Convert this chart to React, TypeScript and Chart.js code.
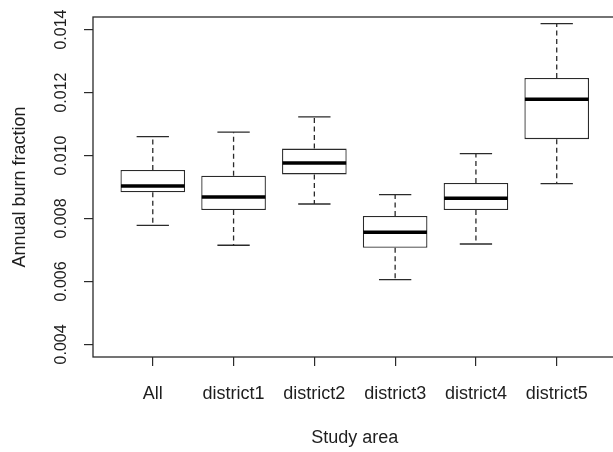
import React, { useEffect, useRef } from "react";
import { Chart, registerables } from "chart.js";

Chart.register(...registerables);

// ---- data ----
const categories = ["All", "district1", "district2", "district3", "district4", "district5"];
const lowerWhisker = [0.00778, 0.00715, 0.00846, 0.00606, 0.00719, 0.00911];
const q1 = [0.00883, 0.00827, 0.0094, 0.00707, 0.00827, 0.01052];
const medians = [0.00903, 0.00868, 0.00976, 0.00756, 0.00864, 0.01179];
const q3 = [0.00954, 0.00936, 0.01022, 0.00808, 0.00913, 0.01246];
const upperWhisker = [0.0106, 0.01074, 0.01123, 0.00876, 0.01006, 0.01419];
const yTickValues = [0.004, 0.006, 0.008, 0.01, 0.012, 0.014];
const xTitle = "Study area";
const yTitle = "Annual burn fraction";

const CANVAS_W = 630;
const CANVAS_H = 452;
const LINE = "#2a2a2a";
const TEXT = "#1e1e1e";
const FONT = "'Liberation Sans', Arial, sans-serif";

export default function App() {
  const ref = useRef<HTMLCanvasElement>(null);

  useEffect(() => {
    const canvas = ref.current;
    if (!canvas) return;

    const line = (ctx: CanvasRenderingContext2D, x1: number, y1: number, x2: number, y2: number) => {
      ctx.beginPath();
      ctx.moveTo(x1, y1);
      ctx.lineTo(x2, y2);
      ctx.stroke();
    };

    const boxPlugin = {
      id: "boxWhiskers",
      afterDatasetsDraw(chart: any) {
        const ctx: CanvasRenderingContext2D = chart.ctx;
        const xs = chart.scales.x;
        const ys = chart.scales.y;
        const meta = chart.getDatasetMeta(0);
        ctx.save();
        ctx.lineCap = "butt";
        categories.forEach((_, i) => {
          const bar: any = meta.data[i];
          const x = xs.getPixelForValue(i + 1);
          const half = bar.width / 2;
          const capHalf = half / 2;
          const yU = ys.getPixelForValue(upperWhisker[i]);
          const yL = ys.getPixelForValue(lowerWhisker[i]);
          const yQ1 = ys.getPixelForValue(q1[i]);
          const yQ3 = ys.getPixelForValue(q3[i]);
          const yM = ys.getPixelForValue(medians[i]);
          ctx.strokeStyle = LINE;
          ctx.lineWidth = 1.3;
          ctx.setLineDash([5, 3.5]);
          line(ctx, x, yQ3, x, yU);
          line(ctx, x, yQ1, x, yL);
          ctx.setLineDash([]);
          line(ctx, x - capHalf, yU, x + capHalf, yU);
          line(ctx, x - capHalf, yL, x + capHalf, yL);
          ctx.strokeStyle = "#000";
          ctx.lineWidth = 3.5;
          line(ctx, x - half + 0.5, yM, x + half - 0.5, yM);
        });
        ctx.restore();
      },
      afterDraw(chart: any) {
        const ctx: CanvasRenderingContext2D = chart.ctx;
        const a = chart.chartArea;
        ctx.save();
        ctx.strokeStyle = LINE;
        ctx.lineWidth = 1.3;
        ctx.strokeRect(a.left, a.top, a.right - a.left, a.bottom - a.top);
        ctx.restore();
      },
    };

    const chart = new Chart(canvas, {
      type: "bar",
      data: {
        datasets: [
          {
            data: categories.map((_, i) => ({ x: i + 1, y: [q1[i], q3[i]] })) as any,
            backgroundColor: "#ffffff",
            borderColor: LINE,
            borderWidth: 1.3,
            borderSkipped: false,
            barPercentage: 0.8,
            categoryPercentage: 1,
          },
        ],
      },
      options: {
        responsive: false,
        animation: false,
        devicePixelRatio: 1,
        layout: { padding: { left: 0, top: 17, right: CANVAS_W - 616.5, bottom: 0 } },
        plugins: { legend: { display: false }, tooltip: { enabled: false } },
        scales: {
          x: {
            type: "linear",
            min: 0.26,
            max: 6.74,
            offset: false,
            afterBuildTicks: (scale: any) => {
              scale.ticks = categories.map((_, i) => ({ value: i + 1 }));
            },
            afterFit: (scale: any) => {
              scale.height = CANVAS_H - 357;
            },
            border: { display: false },
            grid: {
              offset: false,
              drawOnChartArea: false,
              drawTicks: true,
              tickLength: 9,
              color: LINE,
              lineWidth: 1.2,
            },
            ticks: {
              autoSkip: false,
              maxRotation: 0,
              minRotation: 0,
              padding: 17,
              color: TEXT,
              font: { family: FONT, size: 18 },
              callback: (v: any) => categories[Number(v) - 1] ?? "",
            },
            title: {
              display: true,
              text: xTitle,
              color: TEXT,
              font: { family: FONT, size: 18 },
              padding: { top: 0, bottom: 3 },
            },
          },
          y: {
            type: "linear",
            min: 0.0036,
            max: 0.0144,
            afterBuildTicks: (scale: any) => {
              scale.ticks = yTickValues.map((v) => ({ value: v }));
            },
            afterFit: (scale: any) => {
              scale.width = 93;
            },
            border: { display: false },
            grid: {
              drawOnChartArea: false,
              drawTicks: true,
              tickLength: 9,
              color: LINE,
              lineWidth: 1.2,
            },
            ticks: {
              minRotation: 90,
              maxRotation: 90,
              crossAlign: "center",
              padding: 2.5,
              color: TEXT,
              font: { family: FONT, size: 16 },
              callback: (v: any) => Number(v).toFixed(3),
            },
            title: {
              display: true,
              text: yTitle,
              color: TEXT,
              font: { family: FONT, size: 18 },
              padding: { top: 9, bottom: 0 },
            },
          },
        },
      },
      plugins: [boxPlugin],
    } as any);

    return () => chart.destroy();
  }, []);

  return (
    <div
      style={{
        position: "fixed",
        left: 0,
        top: 0,
        width: 613,
        height: CANVAS_H,
        overflow: "hidden",
        background: "#fff",
      }}
    >
      <canvas
        ref={ref}
        width={CANVAS_W}
        height={CANVAS_H}
        style={{ width: CANVAS_W, height: CANVAS_H, display: "block" }}
      />
    </div>
  );
}
